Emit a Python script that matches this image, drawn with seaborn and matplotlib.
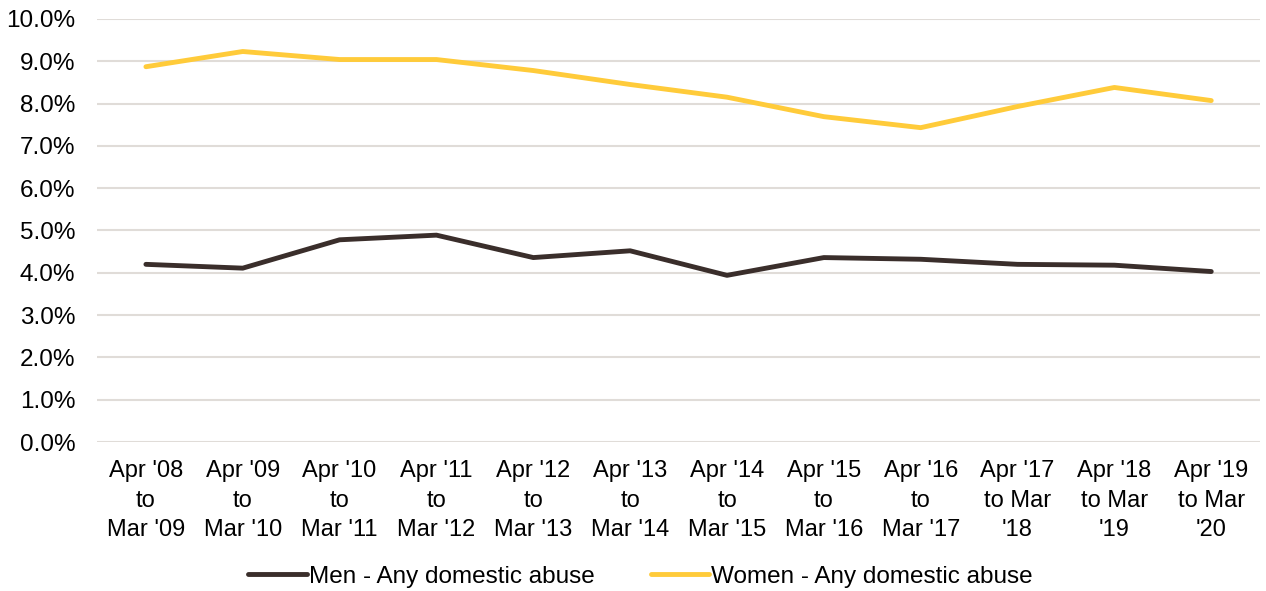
import numpy as np
import matplotlib.pyplot as plt
import seaborn as sns
import pandas as pd
from matplotlib.ticker import PercentFormatter

sns.set_style("white")
plt.rcParams['font.family'] = ['Liberation Sans', 'DejaVu Sans']
plt.rcParams['text.color'] = '#000000'
plt.rcParams['xtick.color'] = '#000000'
plt.rcParams['ytick.color'] = '#000000'

periods = ["Apr '08\nto\nMar '09", "Apr '09\nto\nMar '10", "Apr '10\nto\nMar '11",
           "Apr '11\nto\nMar '12", "Apr '12\nto\nMar '13", "Apr '13\nto\nMar '14",
           "Apr '14\nto\nMar '15", "Apr '15\nto\nMar '16", "Apr '16\nto\nMar '17",
           "Apr '17\nto Mar\n'18", "Apr '18\nto Mar\n'19", "Apr '19\nto Mar\n'20"]
men = [4.20, 4.11, 4.78, 4.89, 4.36, 4.52, 3.94, 4.36, 4.32, 4.20, 4.18, 4.03]
women = [8.87, 9.23, 9.04, 9.04, 8.78, 8.45, 8.15, 7.69, 7.43, 7.93, 8.38, 8.07]
series = ['Men - Any domestic abuse', 'Women - Any domestic abuse']
colors = ['#3a2e2b', '#ffcb3a']

df = pd.DataFrame({
    'x': list(range(len(periods))) * 2,
    'value': men + women,
    'series': [series[0]] * len(men) + [series[1]] * len(women),
})

fig = plt.figure(figsize=(12.66, 5.91), dpi=100)
ax = fig.add_axes([0.077, 0.252, 0.918, 0.716])

sns.lineplot(data=df, x='x', y='value', hue='series', palette=colors,
             linewidth=3.5, ax=ax, legend=True)

ax.set_xlim(-0.5, len(periods) - 0.5)
ax.set_ylim(0, 10)
ax.set_yticks(np.arange(0, 10.01, 1))
ax.yaxis.set_major_formatter(PercentFormatter(decimals=1))
ax.set_xticks(range(len(periods)))
ax.set_xticklabels(periods, fontsize=17, linespacing=1.45)
ax.tick_params(axis='y', labelsize=17.5, length=0, pad=16)
ax.tick_params(axis='x', length=0, pad=13)
ax.grid(axis='y', color='#e0dcd8', linewidth=1.5)
ax.set_axisbelow(True)
for s in ax.spines.values():
    s.set_visible(False)
ax.set_xlabel('')
ax.set_ylabel('')

handles, labels = ax.get_legend_handles_labels()
ax.get_legend().remove()
fig.legend(handles, labels, loc='center', bbox_to_anchor=(0.506, 0.024),
           ncol=2, frameon=False, fontsize=17.5, handlelength=2.4,
           handletextpad=0.1, columnspacing=2.3)

fig.savefig('out.png', dpi=100)
